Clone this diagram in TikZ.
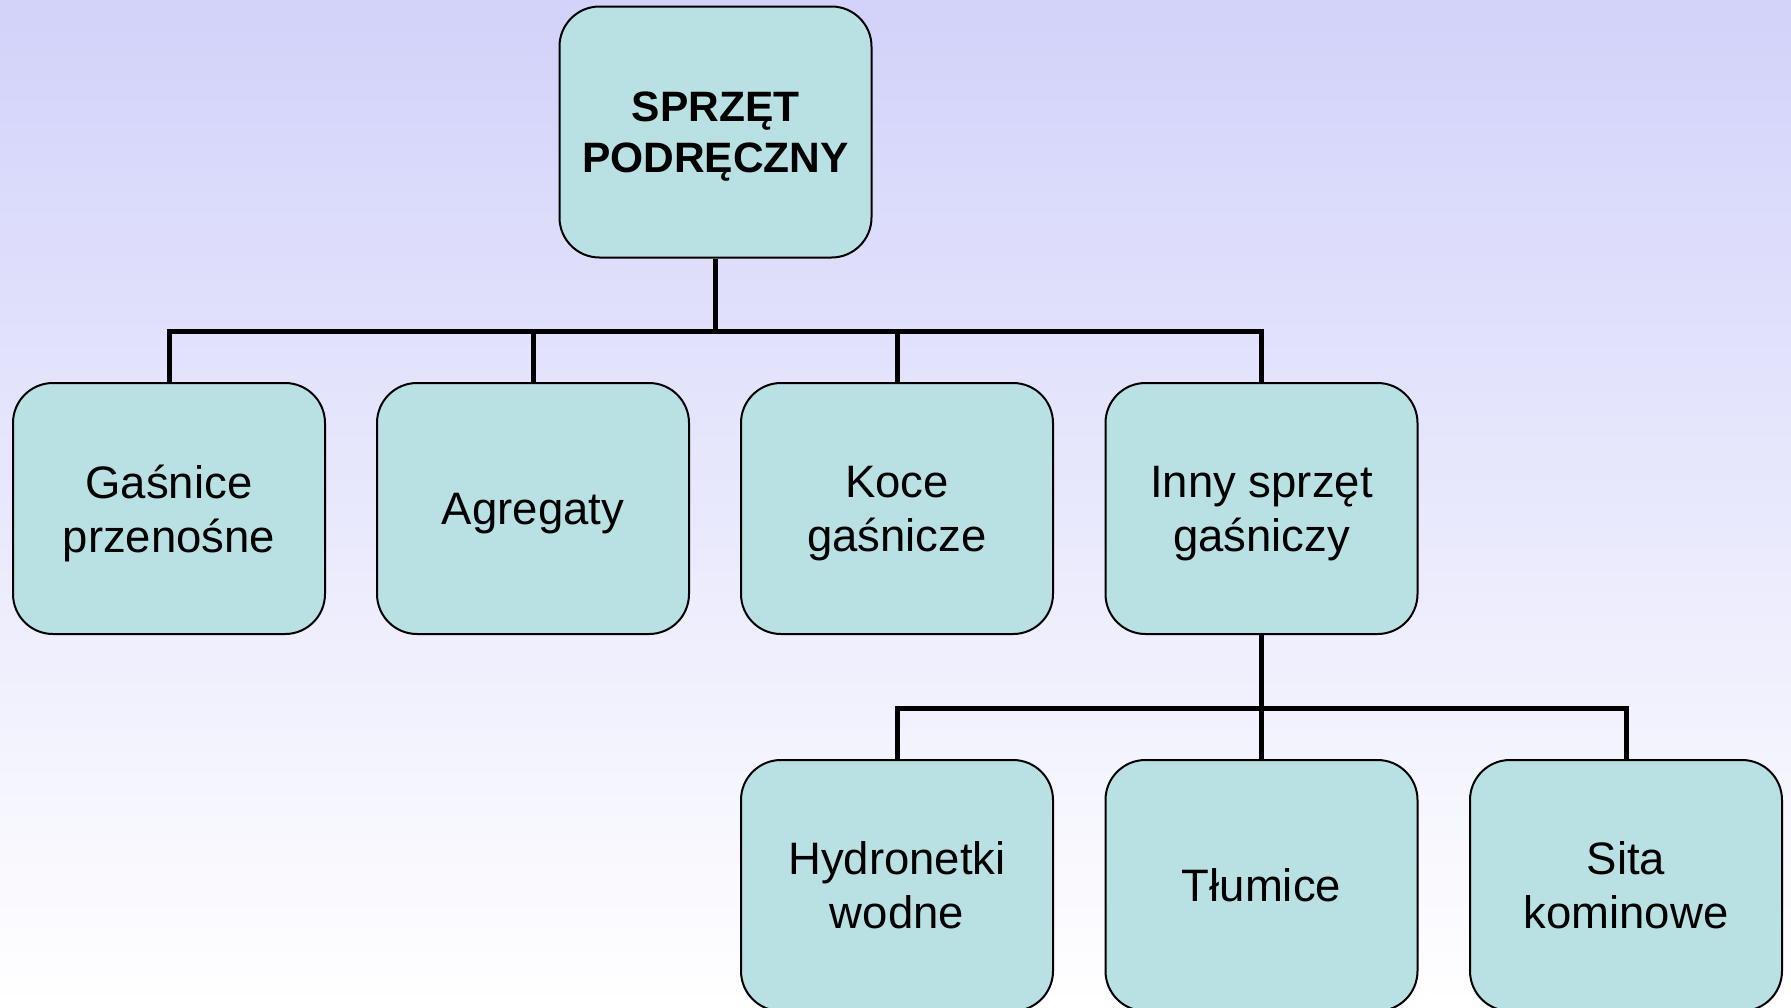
\documentclass[tikz,border=0pt]{standalone}
\usepackage{fontspec}
\setmainfont{Liberation Sans}
\usepackage{tikz}

\definecolor{boxfill}{RGB}{185,224,226}
\definecolor{bgtop}{RGB}{210,210,250}

\tikzset{
	unit/.style={draw=black, line width=2pt, fill=boxfill, rounded corners=40pt,
		minimum width=312pt, minimum height=251pt, align=center, inner sep=0pt,
		text depth=0pt, font=\fontsize{45.5}{54}\selectfont},
	head/.style={unit, font=\fontsize{42.5}{51}\selectfont\bfseries},
	link/.style={draw=black, line width=5pt, line join=miter}
}

\begin{document}
\begin{tikzpicture}[x=1pt,y=-1pt]

	% background
	\useasboundingbox (0,0) rectangle (1791,1007);
	\shade [top color=bgtop, bottom color=white] (0,0) rectangle (1791,1007);

	% top
	\node [head] (top) at (715.5,132) {SPRZĘT\\PODRĘCZNY};

	% row 1
	\node [unit] (gasnice) at (169,508.5) {Gaśnice\\przenośne};
	\node [unit] (agregaty) at (533,508.5) {Agregaty};
	\node [unit] (koce) at (897,508.5) {Koce\\gaśnicze};
	\node [unit] (inny) at (1261.5,508.5) {Inny sprzęt\\gaśniczy};

	% row 2
	\node [unit] (hydro) at (897,885.5) {Hydronetki\\wodne};
	\node [unit] (tlumice) at (1261.5,885.5) {Tłumice};
	\node [unit] (sita) at (1626,885.5) {Sita\\kominowe};

	% |
	\coordinate (bus) at (715.5,331);
	\draw [link] (top.south) -- (bus);
	\draw [link] (gasnice.north) |- (bus);
	\draw [link] (agregaty.north) |- (bus);
	\draw [link] (koce.north) |- (bus);
	\draw [link] (inny.north) |- (bus);

	% |
	\coordinate (subbus) at (1261.5,708);
	\draw [link] (inny.south) -- (subbus);
	\draw [link] (hydro.north) |- (subbus);
	\draw [link] (tlumice.north) -- (subbus);
	\draw [link] (sita.north) |- (subbus);

\end{tikzpicture}
\end{document}
